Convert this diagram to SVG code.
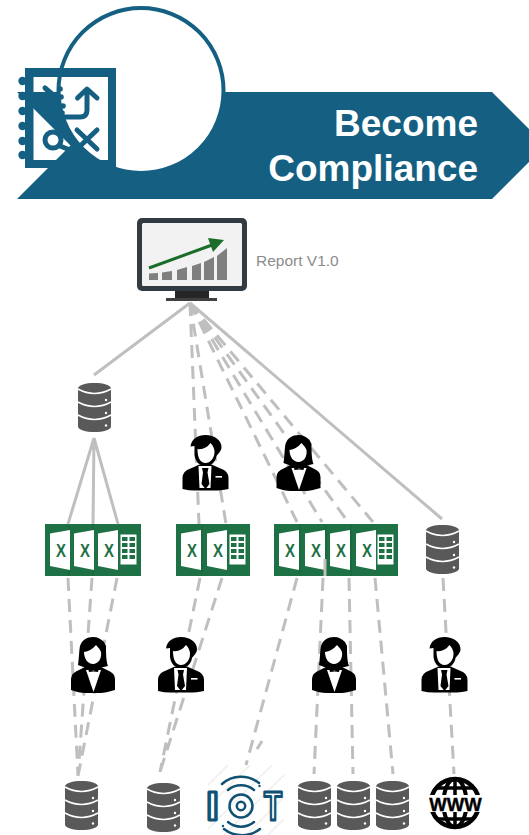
<svg xmlns="http://www.w3.org/2000/svg" xmlns:xlink="http://www.w3.org/1999/xlink" width="529" height="835" viewBox="0 0 529 835">
<style>
.navy{fill:#156082}
.nl{fill:none;stroke:#156082;stroke-width:5;stroke-linecap:round;stroke-linejoin:round}
.solid{fill:none;stroke:#bfbfbf;stroke-width:3}
.dash{fill:none;stroke:#bfbfbf;stroke-width:3;stroke-dasharray:13 8}
.xg{fill:#1e7145}
.xs{stroke:#17633a;stroke-width:1}
.xp{fill:#fff}
.xt{font:bold 19px "Liberation Sans",Arial,sans-serif;fill:#1e7145;text-anchor:middle}
.title{font:bold 37px "Liberation Sans",Arial,sans-serif;fill:#fff;text-anchor:end}
.iot{font:bold 40px "Liberation Sans",Arial,sans-serif;fill:#fff;stroke:#0f5274;stroke-width:3;stroke-linejoin:round}
.ring{fill:none;stroke:#0f5274;stroke-width:2.5;stroke-linecap:round}
.hatch{stroke:#eeeeee;stroke-width:1.5}
</style>
<defs>
<symbol id="db" width="33" height="50" viewBox="0 0 33 50" overflow="visible">
<path d="M0,5.5 C0,2 8,0 16.5,0 C25,0 33,2 33,5.5 V43.5 C33,47 25,49 16.5,49 C8,49 0,47 0,43.5 Z" fill="#595959"/>
<path d="M0,6 Q16.5,15 33,6 M0,19 Q16.5,28 33,19 M0,32 Q16.5,41 33,32" fill="none" stroke="#fff" stroke-width="1.7"/>
<circle cx="28" cy="17" r="1.2" fill="#fff"/><circle cx="28" cy="30" r="1.2" fill="#fff"/><circle cx="28" cy="42.5" r="1.2" fill="#fff"/>
</symbol>
<symbol id="man" width="46" height="56" viewBox="0 0 46 56" overflow="visible">
<path d="M0,54 V43 Q0,36 8,33.5 L17,29.5 H29 L38,33.5 Q46,36 46,43 V54 Q35,56 31,55.5 H15 Q8,56 0,54 Z" fill="#000"/>
<path d="M8,11.5 C9,4 15,0 23,0 C32,0 39,5 39,12 C39,16 36,18 34,21 C33,27 29,31 23,31 C17,31 13,27 12,20 L12,11 Z" fill="#000"/>
<path d="M15,14 Q23,15 28,8 Q32,12 32,17 C32,23 28,28 23,28 C18,28 15,23 15,14 Z" fill="#fff"/>
<path d="M16,31 H29 L28,53 H17 Z" fill="#fff"/>
<path d="M19.5,33 H26 L25,37.5 L27,49 L23,54 L19,49 L20.5,37.5 Z" fill="#000"/>
<rect x="33" y="41" width="6.5" height="1.6" fill="#fff"/>
</symbol>
<symbol id="woman" width="44" height="56" viewBox="0 0 44 56" overflow="visible">
<path d="M0,53 V42 Q0,36 8,33 L16,29 H28 L36,33 Q44,36 44,42 V53 Q34,56 30,56 H14 Q8,56 0,53 Z" fill="#000"/>
<path d="M7,28 C8,22 8,14 9,9 C11,3 16,0 22,0 C27,0 30,2 33,5 L35,9 C35,15 35,24 37,29 L28,31 H15 Z" fill="#000"/>
<path d="M13,15 Q20,14 25,8 Q29,12 30,15 C31,22 27,27 22,27 C17,27 13,22 13,15 Z" fill="#fff"/>
<path d="M15,33 H30 L22.5,55 Z" fill="#fff"/>
<path d="M17,31 L22.5,33.5 L28,31 L27,35 L22.5,34.5 L18,35 Z" fill="#000"/>
</symbol>
<symbol id="page" width="22" height="42" viewBox="0 0 22 42" overflow="visible">
<path d="M0,3.5 L20,0 V40 L0,36 Z" class="xp"/>
</symbol>
<symbol id="grid" width="17" height="31" viewBox="0 0 17 31" overflow="visible">
<rect x="0.5" y="0.5" width="16" height="30" fill="#fff"/>
<path d="M2,3 H7.5 V7 H2 Z M9.5,3 H15 V7 H9.5 Z M2,9 H7.5 V13 H2 Z M9.5,9 H15 V13 H9.5 Z M2,15 H7.5 V19 H2 Z M9.5,15 H15 V19 H9.5 Z M2,21 H7.5 V25 H2 Z M9.5,21 H15 V25 H9.5 Z" class="xg"/>
</symbol>
<clipPath id="iotclip"><rect x="208" y="765" width="76" height="70"/></clipPath>
</defs>

<g id="banner">
<path d="M17,92 H492 L545.5,145.5 L492,199 H17 L70.5,145.5 Z" class="navy"/>
<circle cx="141" cy="90.5" r="82.5" fill="#fff" stroke="#156082" stroke-width="4"/>
<text class="title" x="478" y="136">Become</text>
<text class="title" x="478" y="181">Compliance</text>
</g>
<g id="notebook-icon">
<path fill-rule="evenodd" d="M25,68 H116 V168 H25 Z M33.5,77 V160 H108 V77 Z" class="navy"/>
<g class="navy"><circle cx="22.5" cy="81" r="4.2"/><circle cx="22.5" cy="96" r="4.2"/><circle cx="22.5" cy="111" r="4.2"/><circle cx="22.5" cy="126" r="4.2"/><circle cx="22.5" cy="141" r="4.2"/><circle cx="22.5" cy="155" r="4.2"/>
<circle cx="60" cy="89" r="2.8"/><circle cx="61" cy="97" r="2.8"/><circle cx="63" cy="106" r="2.8"/><circle cx="62" cy="113" r="2.8"/></g>
<path class="nl" d="M45,88 L52,94 M62,117 H80 Q87,117 87,110 V90 M77.500,98 L87,89 L97,98 M53,140 m-8,0 a8,8 0 1 0 16,0 a8,8 0 1 0 -16,0 M60,146 L70,150 M77,130 L97,149 M97,130 L77,149"/>
</g>

<g id="excel-1">
<rect x="45" y="524" width="96" height="52" class="xg"/>
<path class="xs" d="M69,524 V576 M93,524 V576"/>
<use xlink:href="#page" href="#page" x="50" y="530"/><use xlink:href="#page" href="#page" x="74" y="530"/><use xlink:href="#page" href="#page" x="98" y="530"/>
<text class="xt" x="61" y="557" textLength="10" lengthAdjust="spacingAndGlyphs">X</text><text class="xt" x="85" y="557" textLength="10" lengthAdjust="spacingAndGlyphs">X</text><text class="xt" x="109" y="557" textLength="10" lengthAdjust="spacingAndGlyphs">X</text>
<use xlink:href="#grid" href="#grid" x="120" y="534"/>
</g>
<g id="excel-2">
<rect x="176" y="524" width="74" height="52" class="xg"/>
<path class="xs" d="M202,524 V576"/>
<use xlink:href="#page" href="#page" x="181" y="530"/><use xlink:href="#page" href="#page" x="207" y="530"/>
<text class="xt" x="192" y="557" textLength="10" lengthAdjust="spacingAndGlyphs">X</text><text class="xt" x="218" y="557" textLength="10" lengthAdjust="spacingAndGlyphs">X</text>
<use xlink:href="#grid" href="#grid" x="229" y="534"/>
</g>
<g id="excel-3">
<rect x="274" y="524" width="124" height="52" class="xg"/>
<path class="xs" d="M300,524 V576 M326,524 V576 M351,524 V576"/>
<use xlink:href="#page" href="#page" x="279" y="530"/><use xlink:href="#page" href="#page" x="305" y="530"/><use xlink:href="#page" href="#page" x="330" y="530"/><use xlink:href="#page" href="#page" x="356" y="530"/>
<text class="xt" x="290" y="557" textLength="10" lengthAdjust="spacingAndGlyphs">X</text><text class="xt" x="316" y="557" textLength="10" lengthAdjust="spacingAndGlyphs">X</text><text class="xt" x="341" y="557" textLength="10" lengthAdjust="spacingAndGlyphs">X</text><text class="xt" x="367" y="557" textLength="10" lengthAdjust="spacingAndGlyphs">X</text>
<use xlink:href="#grid" href="#grid" x="377" y="534"/>
</g>

<g id="connectors">
<path class="solid" d="M190,303 L94,375 M190,303 L442,519 M94,438 L68,524 M94,438 L93,524 M94,438 L118,524"/>
<path class="dash" d="M190,303 L199,524 M190,303 L226,524 M190,303 L297,522 M190,303 L322,522 M190,303 L348,522 M190,303 L373,522"/>
<path class="dash" d="M68,578 L78,776 M92,578 L78,776 M117,578 L78,776 M200,578 L160,772 M222,578 L160,772 M297,578 L246,765 M323,578 L314,774 M349,578 L353,774 M375,578 L393,774 M443,578 L454,774"/>
<path class="solid" d="M262,741 L257,749 M325,559 V576"/>
</g>

<g id="monitor">
<rect x="137" y="218" width="110" height="73" rx="5" fill="#333b42"/>
<rect x="142" y="223" width="100" height="63" rx="1.500" fill="#f2f2f2"/>
<rect x="175" y="291" width="34" height="7" fill="#262626"/>
<rect x="166" y="298" width="51" height="3" fill="#404040"/>
<path fill="#7f7f7f" d="M149,273.500 L158,273 V280 H149 Z M162,272.500 L172,271 V280 H162 Z M177,270 L187,267 V280 H177 Z M192,266 L201,263 V280 H192 Z M204,262 L214,257 V280 H204 Z M217,256 L227,248 V280 H217 Z"/>
<path d="M149,268 L212,245" fill="none" stroke="#1a6e2a" stroke-width="3"/>
<path d="M208,238 L224,240 L213,252 Z" fill="#1a6e2a"/>
</g>
<g id="report-label"><text x="256" y="266" font-family="Liberation Sans, Arial, sans-serif" font-size="15.500" fill="#8c8c8c">Report V1.0</text></g>

<g id="db-top"><use xlink:href="#db" href="#db" x="78" y="383"/></g>
<g id="db-right"><use xlink:href="#db" href="#db" x="426" y="525"/></g>
<g id="db-b1"><use xlink:href="#db" href="#db" x="65" y="781"/></g>
<g id="db-b2"><use xlink:href="#db" href="#db" x="147" y="783"/></g>
<g id="db-b3"><use xlink:href="#db" href="#db" x="298" y="781"/></g>
<g id="db-b4"><use xlink:href="#db" href="#db" x="337" y="781"/></g>
<g id="db-b5"><use xlink:href="#db" href="#db" x="376" y="781"/></g>

<g id="person-1"><use xlink:href="#man" href="#man" x="182.500" y="435"/></g>
<g id="person-2"><use xlink:href="#woman" href="#woman" x="276.500" y="435"/></g>
<g id="person-3"><use xlink:href="#woman" href="#woman" x="71" y="637"/></g>
<g id="person-4"><use xlink:href="#man" href="#man" x="158" y="637"/></g>
<g id="person-5"><use xlink:href="#woman" href="#woman" x="312" y="637"/></g>
<g id="person-6"><use xlink:href="#man" href="#man" x="421.500" y="637"/></g>

<g id="iot">
<g clip-path="url(#iotclip)" class="hatch">
<path d="M208,785 L228,765 M208,807 L250,765 M208,829 L272,765 M224,835 L284,775 M246,835 L284,797 M268,835 L284,819"/>
</g>
<text class="iot" x="206" y="820" textLength="13" lengthAdjust="spacingAndGlyphs">I</text>
<circle cx="241" cy="806" r="4.2" class="ring"/>
<circle cx="241" cy="806" r="11.5" class="ring"/>
<path class="ring" d="M228,790 A20.500,20.500 0 0 1 254,790 M222,784 A29,29 0 0 1 259,783 M228,822 A20.500,20.500 0 0 0 254,822 M224,829 A29,29 0 0 0 260,829"/>
<circle cx="259.500" cy="786" r="1.200" fill="#0f5274"/><circle cx="223" cy="826" r="1.200" fill="#0f5274"/>
<text class="iot" x="264" y="820" textLength="18" lengthAdjust="spacingAndGlyphs">T</text>
</g>

<g id="www">
<circle cx="455" cy="803" r="24" fill="none" stroke="#000" stroke-width="4.500"/>
<ellipse cx="455" cy="803" rx="11.500" ry="24" fill="none" stroke="#000" stroke-width="4"/>
<path d="M455,779 V827 M436,788 H474 M436,819 H474" fill="none" stroke="#000" stroke-width="3.500"/>
<rect x="428" y="795" width="55" height="17" fill="#fff"/>
<text x="455.500" y="810.500" text-anchor="middle" font-family="Liberation Sans, Arial, sans-serif" font-weight="bold" font-size="18.500" fill="#000" stroke="#000" stroke-width="0.400">WWW</text>
</g>
</svg>
